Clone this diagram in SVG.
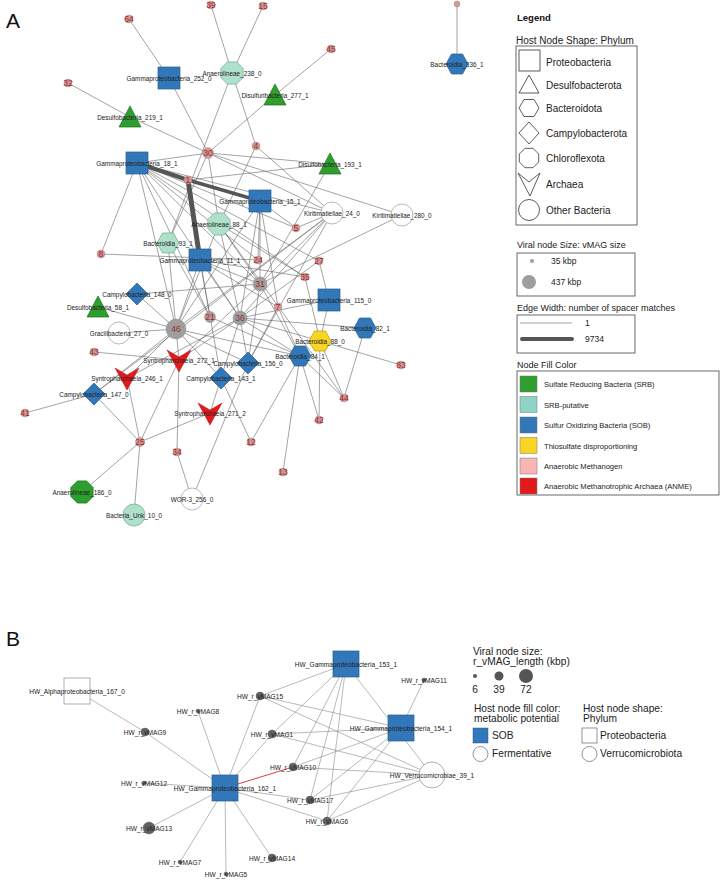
<svg xmlns="http://www.w3.org/2000/svg" xmlns:xlink="http://www.w3.org/1999/xlink" width="720" height="880" viewBox="0 0 720 880">
<style>
text{font-family:"Liberation Sans",Arial,sans-serif}
.e line{stroke:#666;stroke-width:0.6}
.eb line{stroke:#8a8a8a;stroke-width:0.6}
.lab{font-size:6.4px;fill:#222;text-anchor:middle;dominant-baseline:central}
.vl{font-size:8.6px;fill:#9c2b2b;text-anchor:middle;dominant-baseline:central}
.vs{fill:#cf9a9a;stroke:#b07878;stroke-width:0.4}
.vg{fill:#9e9e9e;stroke:#8a8a8a;stroke-width:0.5}
.sob{fill:#3277b9;stroke:#2a5e8e;stroke-width:0.7}
.srb{fill:#2e9e2e;stroke:#1e6e1e;stroke-width:0.7}
.put{fill:#aee0cb;stroke:#6fa892;stroke-width:0.7}
.thio{fill:#f9d423;stroke:#b39a10;stroke-width:0.7}
.anme{fill:#e31a1c;stroke:#b01010;stroke-width:0.5}
.wht{fill:#fff;stroke:#9a9a9a;stroke-width:0.7}
.lg{font-size:10px;fill:#222}
.lgs{fill:none;stroke:#333;stroke-width:0.8}
.box{fill:none;stroke:#444;stroke-width:0.8}
.fc{font-size:7.6px;fill:#222}
.bl{font-size:6.6px;fill:#222;text-anchor:middle;dominant-baseline:central}
.bv{fill:#616161;stroke:#555;stroke-width:0.4}
.bg{font-size:10.2px;fill:#222}
</style>
<defs>
<rect id="sq" x="-11" y="-11" width="22" height="22"/>
<rect id="sqb" x="-13" y="-13" width="26" height="26"/>
<polygon id="tri" points="0,-11 11,10 -11,10"/>
<polygon id="hex" points="-11,0 -5.5,-10 5.5,-10 11,0 5.5,10 -5.5,10"/>
<polygon id="dia" points="0,-11 11,0 0,11 -11,0"/>
<polygon id="oct" points="11.1,4.6 4.6,11.1 -4.6,11.1 -11.1,4.6 -11.1,-4.6 -4.6,-11.1 4.6,-11.1 11.1,-4.6"/>
<polygon id="vee" points="-12,-10 0,-3 12,-10 0,12"/>
<circle id="circ" r="11"/>
</defs>
<rect width="720" height="880" fill="#fff"/>

<text x="6" y="28" font-size="21" fill="#111">A</text>
<text x="6" y="646" font-size="21" fill="#111">B</text>

<g id="connectors-A" class="e">
<line x1="129" y1="19" x2="169" y2="78"/>
<line x1="211" y1="5" x2="232" y2="73"/>
<line x1="263" y1="6" x2="232" y2="73"/>
<line x1="331" y1="49" x2="275" y2="95"/>
<line x1="275" y1="95" x2="208" y2="153"/>
<line x1="68" y1="83" x2="130" y2="117"/>
<line x1="130" y1="117" x2="208" y2="153"/>
<line x1="169" y1="78" x2="208" y2="153"/>
<line x1="232" y1="73" x2="256" y2="146"/>
<line x1="232" y1="73" x2="168" y2="243"/>
<line x1="208" y1="153" x2="137" y2="163"/>
<line x1="208" y1="153" x2="330" y2="164"/>
<line x1="208" y1="153" x2="332" y2="213"/>
<line x1="208" y1="153" x2="402" y2="215"/>
<line x1="208" y1="153" x2="219" y2="224"/>
<line x1="208" y1="153" x2="168" y2="243"/>
<line x1="256" y1="146" x2="332" y2="213"/>
<line x1="256" y1="146" x2="219" y2="224"/>
<line x1="188" y1="180" x2="330" y2="164"/>
<line x1="137" y1="163" x2="101" y2="254"/>
<line x1="137" y1="163" x2="176" y2="329"/>
<line x1="137" y1="163" x2="210" y2="317"/>
<line x1="137" y1="163" x2="240" y2="318"/>
<line x1="137" y1="163" x2="260" y2="284"/>
<line x1="137" y1="163" x2="305" y2="277"/>
<line x1="137" y1="163" x2="258" y2="260"/>
<line x1="137" y1="163" x2="296" y2="228"/>
<line x1="137" y1="163" x2="332" y2="213"/>
<line x1="137" y1="163" x2="319" y2="261"/>
<line x1="260" y1="201" x2="258" y2="260"/>
<line x1="260" y1="201" x2="260" y2="284"/>
<line x1="260" y1="201" x2="240" y2="318"/>
<line x1="260" y1="201" x2="296" y2="228"/>
<line x1="260" y1="201" x2="278" y2="307"/>
<line x1="260" y1="201" x2="176" y2="329"/>
<line x1="219" y1="224" x2="260" y2="284"/>
<line x1="219" y1="224" x2="240" y2="318"/>
<line x1="219" y1="224" x2="176" y2="329"/>
<line x1="219" y1="224" x2="305" y2="277"/>
<line x1="219" y1="224" x2="344" y2="398"/>
<line x1="168" y1="243" x2="176" y2="329"/>
<line x1="168" y1="243" x2="210" y2="317"/>
<line x1="101" y1="254" x2="258" y2="260"/>
<line x1="200" y1="260" x2="305" y2="277"/>
<line x1="200" y1="260" x2="240" y2="318"/>
<line x1="200" y1="260" x2="210" y2="317"/>
<line x1="200" y1="260" x2="176" y2="329"/>
<line x1="200" y1="260" x2="260" y2="284"/>
<line x1="200" y1="260" x2="278" y2="307"/>
<line x1="200" y1="260" x2="221" y2="378"/>
<line x1="332" y1="213" x2="260" y2="284"/>
<line x1="332" y1="213" x2="240" y2="318"/>
<line x1="332" y1="213" x2="176" y2="329"/>
<line x1="332" y1="213" x2="296" y2="228"/>
<line x1="332" y1="213" x2="248" y2="363"/>
<line x1="402" y1="215" x2="260" y2="284"/>
<line x1="330" y1="164" x2="260" y2="284"/>
<line x1="319" y1="261" x2="329" y2="300"/>
<line x1="319" y1="261" x2="240" y2="318"/>
<line x1="329" y1="300" x2="320" y2="341"/>
<line x1="320" y1="341" x2="319" y2="420"/>
<line x1="305" y1="277" x2="320" y2="341"/>
<line x1="240" y1="318" x2="329" y2="300"/>
<line x1="240" y1="318" x2="365" y2="328"/>
<line x1="240" y1="318" x2="320" y2="341"/>
<line x1="320" y1="341" x2="401" y2="365"/>
<line x1="240" y1="318" x2="300" y2="356"/>
<line x1="176" y1="329" x2="300" y2="356"/>
<line x1="210" y1="317" x2="300" y2="356"/>
<line x1="137" y1="294" x2="260" y2="284"/>
<line x1="137" y1="294" x2="176" y2="329"/>
<line x1="98" y1="307" x2="176" y2="329"/>
<line x1="119" y1="333" x2="176" y2="329"/>
<line x1="176" y1="329" x2="94" y2="394"/>
<line x1="176" y1="329" x2="127" y2="378"/>
<line x1="176" y1="329" x2="221" y2="378"/>
<line x1="176" y1="329" x2="248" y2="363"/>
<line x1="176" y1="329" x2="179" y2="360"/>
<line x1="94" y1="352" x2="179" y2="360"/>
<line x1="179" y1="360" x2="140" y2="442"/>
<line x1="179" y1="360" x2="177" y2="452"/>
<line x1="179" y1="360" x2="260" y2="284"/>
<line x1="179" y1="360" x2="240" y2="318"/>
<line x1="127" y1="378" x2="140" y2="442"/>
<line x1="127" y1="378" x2="240" y2="318"/>
<line x1="94" y1="394" x2="25" y2="413"/>
<line x1="94" y1="394" x2="140" y2="442"/>
<line x1="94" y1="394" x2="332" y2="213"/>
<line x1="210" y1="413" x2="140" y2="442"/>
<line x1="210" y1="413" x2="221" y2="378"/>
<line x1="221" y1="378" x2="251" y2="442"/>
<line x1="221" y1="378" x2="240" y2="318"/>
<line x1="248" y1="363" x2="240" y2="318"/>
<line x1="248" y1="363" x2="260" y2="284"/>
<line x1="248" y1="363" x2="192" y2="499"/>
<line x1="248" y1="363" x2="278" y2="307"/>
<line x1="177" y1="452" x2="192" y2="499"/>
<line x1="140" y1="442" x2="82" y2="492"/>
<line x1="140" y1="442" x2="134" y2="515"/>
<line x1="300" y1="356" x2="251" y2="442"/>
<line x1="300" y1="356" x2="283" y2="472"/>
<line x1="300" y1="356" x2="319" y2="420"/>
<line x1="300" y1="356" x2="344" y2="398"/>
<line x1="300" y1="356" x2="260" y2="284"/>
<line x1="300" y1="356" x2="278" y2="307"/>
<line x1="320" y1="341" x2="344" y2="398"/>
<line x1="365" y1="328" x2="344" y2="398"/>
<line x1="457" y1="64" x2="457" y2="4"/>
<line x1="137" y1="163" x2="188" y2="180" style="stroke:#555;stroke-width:4"/>
<line x1="188" y1="180" x2="260" y2="201" style="stroke:#555;stroke-width:3.5"/>
<line x1="188" y1="180" x2="200" y2="260" style="stroke:#555;stroke-width:5"/>
</g>

<g id="viral-A">
<g id="v64"><circle class="vs" cx="129" cy="19" r="4"/><text class="vl" x="129" y="19">64</text></g>
<g id="v39"><circle class="vs" cx="211" cy="5" r="4"/><text class="vl" x="211" y="5">39</text></g>
<g id="v15"><circle class="vs" cx="263" cy="6" r="4"/><text class="vl" x="263" y="6">15</text></g>
<g id="v45"><circle class="vs" cx="331" cy="49" r="4"/><text class="vl" x="331" y="49">45</text></g>
<g id="v32"><circle class="vs" cx="68" cy="83" r="4"/><text class="vl" x="68" y="83">32</text></g>
<g id="v30"><circle class="vs" cx="208" cy="153" r="5.5"/><text class="vl" x="208" y="153">30</text></g>
<g id="v4"><circle class="vs" cx="256" cy="146" r="4"/><text class="vl" x="256" y="146">4</text></g>
<g id="v1"><circle class="vs" cx="188" cy="180" r="4"/><text class="vl" x="188" y="180">1</text></g>
<g id="v5"><circle class="vs" cx="296" cy="228" r="4"/><text class="vl" x="296" y="228">5</text></g>
<g id="v8"><circle class="vs" cx="101" cy="254" r="4"/><text class="vl" x="101" y="254">8</text></g>
<g id="v24"><circle class="vs" cx="258" cy="260" r="4"/><text class="vl" x="258" y="260">24</text></g>
<g id="v27"><circle class="vs" cx="319" cy="261" r="4"/><text class="vl" x="319" y="261">27</text></g>
<g id="v35"><circle class="vs" cx="305" cy="277" r="4"/><text class="vl" x="305" y="277">35</text></g>
<g id="v31"><circle class="vg" cx="260" cy="284" r="7"/><text class="vl" x="260" y="284">31</text></g>
<g id="v7"><circle class="vs" cx="278" cy="307" r="4"/><text class="vl" x="278" y="307">7</text></g>
<g id="v21"><circle class="vg" cx="210" cy="317" r="5.5" style="fill:#b39a9a"/><text class="vl" x="210" y="317">21</text></g>
<g id="v36"><circle class="vg" cx="240" cy="318" r="7"/><text class="vl" x="240" y="318">36</text></g>
<g id="v46"><circle class="vg" cx="176" cy="329" r="10"/><text class="vl" x="176" y="329">46</text></g>
<g id="v83"><circle class="vs" cx="401" cy="365" r="4"/><text class="vl" x="401" y="365">83</text></g>
<g id="v43"><circle class="vs" cx="94" cy="352" r="4"/><text class="vl" x="94" y="352">43</text></g>
<g id="v44"><circle class="vs" cx="344" cy="398" r="4"/><text class="vl" x="344" y="398">44</text></g>
<g id="v41"><circle class="vs" cx="25" cy="413" r="4"/><text class="vl" x="25" y="413">41</text></g>
<g id="v42"><circle class="vs" cx="319" cy="420" r="4"/><text class="vl" x="319" y="420">42</text></g>
<g id="v25"><circle class="vs" cx="140" cy="442" r="4.5"/><text class="vl" x="140" y="442">25</text></g>
<g id="v12"><circle class="vs" cx="251" cy="442" r="4"/><text class="vl" x="251" y="442">12</text></g>
<g id="v34"><circle class="vs" cx="177" cy="452" r="4"/><text class="vl" x="177" y="452">34</text></g>
<g id="v13"><circle class="vs" cx="283" cy="472" r="4"/><text class="vl" x="283" y="472">13</text></g>
<g id="vtop"><circle class="vs" cx="457" cy="4" r="3"/></g>
</g>

<g id="hosts-A">
<g id="G252"><use href="#sq" class="sob" x="169" y="78"/><text class="lab" x="169" y="78">Gammaproteobacteria_252_0</text></g>
<g id="A238"><use href="#oct" class="put" x="232" y="73"/><text class="lab" x="232" y="73">Anaerolineae_238_0</text></g>
<g id="D277"><use href="#tri" class="srb" x="275" y="95"/><text class="lab" x="275" y="95">Disulfuribacteria_277_1</text></g>
<g id="D219"><use href="#tri" class="srb" x="130" y="117"/><text class="lab" x="130" y="117">Desulfobacteria_219_1</text></g>
<g id="G18"><use href="#sq" class="sob" x="137" y="163"/><text class="lab" x="137" y="163">Gammaproteobacteria_18_1</text></g>
<g id="D193"><use href="#tri" class="srb" x="330" y="164"/><text class="lab" x="330" y="164">Disulfobacteria_193_1</text></g>
<g id="G15"><use href="#sq" class="sob" x="260" y="201"/><text class="lab" x="260" y="201">Gammaproteobacteria_15_1</text></g>
<g id="K24"><use href="#circ" class="wht" x="332" y="213"/><text class="lab" x="332" y="213">Kiritimatiellae_24_0</text></g>
<g id="K280"><use href="#circ" class="wht" x="402" y="215"/><text class="lab" x="402" y="215">Kiritimatiellae_280_0</text></g>
<g id="A88"><use href="#oct" class="put" x="219" y="224"/><text class="lab" x="219" y="224">Anaerolineae_88_1</text></g>
<g id="B93"><use href="#hex" class="put" x="168" y="243"/><text class="lab" x="168" y="243">Bacteroidia_93_1</text></g>
<g id="G11"><use href="#sq" class="sob" x="200" y="260"/><text class="lab" x="200" y="260">Gammaproteobacteria_11_1</text></g>
<g id="C148"><use href="#dia" class="sob" x="137" y="294"/><text class="lab" x="137" y="294">Campylobacteria_148_0</text></g>
<g id="D58"><use href="#tri" class="srb" x="98" y="307"/><text class="lab" x="98" y="307">Desulfobacteria_58_1</text></g>
<g id="G115"><use href="#sq" class="sob" x="329" y="300"/><text class="lab" x="329" y="300">Gammaproteobacteria_115_0</text></g>
<g id="Gr27"><use href="#circ" class="wht" x="119" y="333"/><text class="lab" x="119" y="333">Gracilibacteria_27_0</text></g>
<g id="B82"><use href="#hex" class="sob" x="365" y="328"/><text class="lab" x="365" y="328">Bacteroidia_82_1</text></g>
<g id="B88"><use href="#hex" class="thio" x="320" y="341"/><text class="lab" x="320" y="341">Bacteroidia_88_0</text></g>
<g id="B84"><use href="#hex" class="sob" x="300" y="356"/><text class="lab" x="300" y="356">Bacteroidia_84_1</text></g>
<g id="C156"><use href="#dia" class="sob" x="248" y="363"/><text class="lab" x="248" y="363">Campylobacteria_156_0</text></g>
<g id="S272"><use href="#vee" class="anme" x="179" y="360"/><text class="lab" x="179" y="360">Syntropharchaeia_272_1</text></g>
<g id="C143"><use href="#dia" class="sob" x="221" y="378"/><text class="lab" x="221" y="378">Campylobacteria_143_1</text></g>
<g id="S246"><use href="#vee" class="anme" x="127" y="378"/><text class="lab" x="127" y="378">Syntropharchaeia_246_1</text></g>
<g id="C147"><use href="#dia" class="sob" x="94" y="394"/><text class="lab" x="94" y="394">Campylobacteria_147_0</text></g>
<g id="S271"><use href="#vee" class="anme" x="210" y="413"/><text class="lab" x="210" y="413">Syntropharchaeia_271_2</text></g>
<g id="A186"><use href="#oct" class="srb" x="82" y="492"/><text class="lab" x="82" y="492">Anaerolineae_186_0</text></g>
<g id="W256"><use href="#circ" class="wht" x="192" y="499"/><text class="lab" x="192" y="499">WOR-3_256_0</text></g>
<g id="BU10"><use href="#circ" class="put" x="134" y="515"/><text class="lab" x="134" y="515">Bacteria_Unk_10_0</text></g>
<g id="B336"><use href="#hex" class="sob" x="457" y="64"/><text class="lab" x="457" y="64">Bacteroidia_336_1</text></g>
</g>

<g id="legend-A">
<text x="517" y="21" font-size="9.5" font-weight="bold" fill="#111">Legend</text>
<text class="lg" x="516" y="44">Host Node Shape:  Phylum</text>
<rect class="box" x="516" y="46" width="121" height="179"/>
<rect class="lgs" x="519" y="50" width="21" height="21"/>
<text class="lg" x="546" y="66">Proteobacteria</text>
<polygon class="lgs" points="529,75 539,93 519,93"/>
<text class="lg" x="546" y="89" fill="#555">Desulfobacterota</text>
<polygon class="lgs" points="519,108 524,99.5 534,99.5 539,108 534,116.5 524,116.5"/>
<text class="lg" x="546" y="112">Bacteroidota</text>
<polygon class="lgs" points="529,122 539,133 529,144 519,133"/>
<text class="lg" x="546" y="137">Campylobacterota</text>
<polygon class="lgs" points="538.7,162 533,167.7 525,167.7 519.3,162 519.3,154 525,148.3 533,148.3 538.7,154"/>
<text class="lg" x="546" y="162">Chloroflexota</text>
<polygon class="lgs" points="518,173 529,182 540,173 530,196"/>
<text class="lg" x="546" y="188">Archaea</text>
<circle class="lgs" cx="529" cy="210" r="10.5"/>
<text class="lg" x="546" y="214">Other Bacteria</text>

<text x="517" y="248" font-size="9" fill="#222">Viral node Size:  vMAG size</text>
<rect class="box" x="517" y="253" width="118" height="43"/>
<circle cx="532" cy="261" r="2" fill="#9e9e9e"/>
<text x="551" y="264" font-size="8.5" fill="#222">35 kbp</text>
<circle cx="529" cy="282" r="7" fill="#9e9e9e"/>
<text x="551" y="285" font-size="8.5" fill="#222">437 kbp</text>

<text x="517" y="311" font-size="9" fill="#222">Edge Width: number of spacer matches</text>
<rect class="box" x="517" y="315" width="118" height="38"/>
<line x1="520" y1="323" x2="572" y2="323" stroke="#888" stroke-width="0.8"/>
<text x="585" y="326" font-size="8.5" fill="#222">1</text>
<line x1="522" y1="339" x2="572" y2="339" stroke="#555" stroke-width="4" stroke-linecap="round"/>
<text x="585" y="342" font-size="8.5" fill="#222">9734</text>

<text x="517" y="368" font-size="9" fill="#222">Node Fill Color</text>
<rect class="box" x="517" y="371" width="202" height="124"/>
<rect x="520" y="376" width="17" height="16" fill="#2e9e2e" stroke="#777" stroke-width="0.5"/>
<text class="fc" x="544" y="387">Sulfate Reducing Bacteria (SRB)</text>
<rect x="520" y="396.5" width="17" height="16" fill="#8dd3c7" stroke="#777" stroke-width="0.5"/>
<text class="fc" x="544" y="407.5">SRB-putative</text>
<rect x="520" y="417" width="17" height="16" fill="#3277b9" stroke="#777" stroke-width="0.5"/>
<text class="fc" x="544" y="428">Sulfur Oxidizing Bacteria (SOB)</text>
<rect x="520" y="437.5" width="17" height="16" fill="#f9d423" stroke="#777" stroke-width="0.5"/>
<text class="fc" x="544" y="448.5">Thiosulfate disproportioning</text>
<rect x="520" y="458" width="17" height="16" fill="#f9b4b4" stroke="#777" stroke-width="0.5"/>
<text class="fc" x="544" y="469">Anaerobic Methanogen</text>
<rect x="520" y="478" width="17" height="16" fill="#e31a1c" stroke="#777" stroke-width="0.5"/>
<text class="fc" x="544" y="489">Anaerobic Methanotrophic Archaea (ANME)</text>
</g>

<g id="connectors-B" class="eb">
<line x1="77" y1="691" x2="145" y2="732"/>
<line x1="145" y1="732" x2="225" y2="788"/>
<line x1="198" y1="711" x2="225" y2="788"/>
<line x1="260" y1="696" x2="225" y2="788"/>
<line x1="272" y1="734" x2="225" y2="788"/>
<line x1="144" y1="783" x2="225" y2="788"/>
<line x1="310" y1="800" x2="225" y2="788"/>
<line x1="327" y1="821" x2="225" y2="788"/>
<line x1="149" y1="828" x2="225" y2="788"/>
<line x1="180" y1="862" x2="225" y2="788"/>
<line x1="226" y1="874" x2="225" y2="788"/>
<line x1="272" y1="858" x2="225" y2="788"/>
<line x1="346" y1="664" x2="260" y2="696"/>
<line x1="346" y1="664" x2="272" y2="734"/>
<line x1="346" y1="664" x2="293" y2="767"/>
<line x1="346" y1="664" x2="310" y2="800"/>
<line x1="346" y1="664" x2="327" y2="821"/>
<line x1="346" y1="664" x2="432" y2="775"/>
<line x1="401" y1="728" x2="424" y2="680"/>
<line x1="401" y1="728" x2="260" y2="696"/>
<line x1="401" y1="728" x2="272" y2="734"/>
<line x1="401" y1="728" x2="293" y2="767"/>
<line x1="401" y1="728" x2="310" y2="800"/>
<line x1="401" y1="728" x2="327" y2="821"/>
<line x1="432" y1="775" x2="260" y2="696"/>
<line x1="432" y1="775" x2="272" y2="734"/>
<line x1="432" y1="775" x2="293" y2="767"/>
<line x1="432" y1="775" x2="310" y2="800"/>
<line x1="432" y1="775" x2="327" y2="821"/>
<line x1="225" y1="788" x2="293" y2="767" style="stroke:#d62728;stroke-width:0.9"/>
</g>

<g id="nodes-B">
<g id="HW167"><use href="#sqb" x="77" y="691" fill="#fff" stroke="#999" stroke-width="0.8"/><text class="bl" x="77" y="691">HW_Alphaproteobacteria_167_0</text></g>
<g id="HW153"><use href="#sqb" class="sob" x="346" y="664"/><text class="bl" x="346" y="664">HW_Gammaproteobacteria_153_1</text></g>
<g id="HW154"><use href="#sqb" class="sob" x="401" y="728"/><text class="bl" x="401" y="728">HW_Gammaproteobacteria_154_1</text></g>
<g id="HW162"><use href="#sqb" class="sob" x="225" y="788"/><text class="bl" x="225" y="788">HW_Gammaproteobacteria_162_1</text></g>
<g id="HW39"><circle cx="432" cy="775" r="13" fill="#fff" stroke="#999" stroke-width="0.8"/><text class="bl" x="432" y="775">HW_Verrucomicrobiae_39_1</text></g>
<g id="m11"><circle class="bv" cx="424" cy="680" r="2"/><text class="bl" x="424" y="680">HW_r_vMAG11</text></g>
<g id="m15"><circle class="bv" cx="260" cy="696" r="4"/><text class="bl" x="260" y="696">HW_r_vMAG15</text></g>
<g id="m8"><circle class="bv" cx="198" cy="711" r="2"/><text class="bl" x="198" y="711">HW_r_vMAG8</text></g>
<g id="m9"><circle class="bv" cx="145" cy="732" r="4"/><text class="bl" x="145" y="732">HW_r_vMAG9</text></g>
<g id="m1"><circle class="bv" cx="272" cy="734" r="4"/><text class="bl" x="272" y="734">HW_r_vMAG1</text></g>
<g id="m10"><circle class="bv" cx="293" cy="767" r="4"/><text class="bl" x="293" y="767">HW_r_vMAG10</text></g>
<g id="m12"><circle class="bv" cx="144" cy="783" r="2"/><text class="bl" x="144" y="783">HW_r_vMAG12</text></g>
<g id="m17"><circle class="bv" cx="310" cy="800" r="4"/><text class="bl" x="310" y="800">HW_r_vMAG17</text></g>
<g id="m6"><circle class="bv" cx="327" cy="821" r="4"/><text class="bl" x="327" y="821">HW_r_vMAG6</text></g>
<g id="m13"><circle class="bv" cx="149" cy="828" r="6"/><text class="bl" x="149" y="828">HW_r_vMAG13</text></g>
<g id="m7"><circle class="bv" cx="180" cy="862" r="2"/><text class="bl" x="180" y="862">HW_r_vMAG7</text></g>
<g id="m14"><circle class="bv" cx="272" cy="858" r="4"/><text class="bl" x="272" y="858">HW_r_vMAG14</text></g>
<g id="m5"><circle class="bv" cx="226" cy="874" r="2"/><text class="bl" x="226" y="874">HW_r_vMAG5</text></g>
</g>

<g id="legend-B">
<text class="bg" x="473" y="655">Viral node size:</text>
<text class="bg" x="473" y="665">r_vMAG_length (kbp)</text>
<circle cx="475" cy="676" r="2" fill="#555"/>
<circle cx="499" cy="676" r="4.5" fill="#555"/>
<circle cx="526" cy="676" r="7" fill="#555"/>
<text class="bg" x="475" y="693" text-anchor="middle">6</text>
<text class="bg" x="499" y="693" text-anchor="middle">39</text>
<text class="bg" x="526" y="693" text-anchor="middle">72</text>
<text class="bg" x="474" y="712">Host node fill color:</text>
<text class="bg" x="474" y="722">metabolic potential</text>
<rect x="473" y="728" width="15" height="15" fill="#3277b9" stroke="#2a5e8e" stroke-width="0.5"/>
<text class="bg" x="492" y="739">SOB</text>
<circle cx="480.5" cy="754" r="7.5" fill="#fff" stroke="#666" stroke-width="0.7"/>
<text class="bg" x="492" y="757">Fermentative</text>
<text class="bg" x="583" y="712">Host node shape:</text>
<text class="bg" x="583" y="722">Phylum</text>
<rect x="582" y="728" width="15" height="15" fill="#fff" stroke="#666" stroke-width="0.7"/>
<text class="bg" x="600" y="739">Proteobacteria</text>
<circle cx="589.5" cy="754" r="7.5" fill="#fff" stroke="#666" stroke-width="0.7"/>
<text class="bg" x="600" y="757">Verrucomicrobiota</text>
</g>
</svg>
